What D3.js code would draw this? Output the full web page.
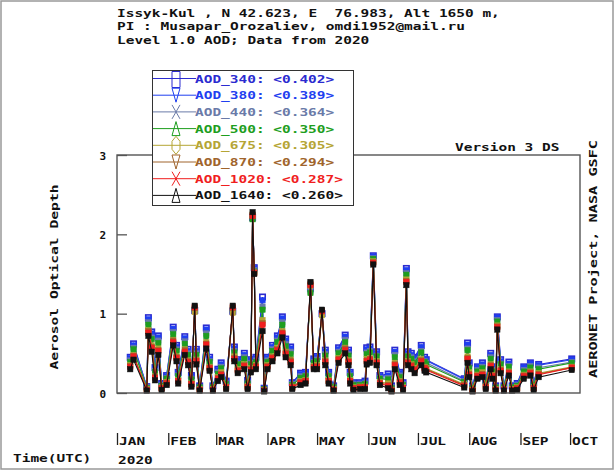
<!DOCTYPE html>
<html>
<head>
<meta charset="utf-8">
<script src="https://cdn.jsdelivr.net/npm/d3@7"></script>
<style>
  body { margin: 0; background: #fff; }
  svg text {
    font-family: "DejaVu Sans Mono", monospace;
    font-weight: bold;
    font-size: 11px;
    white-space: pre;
  }
</style>
</head>
<body>
<div class="chart-section"></div>
<script>
// observation days (2020), MM-DD
const dates = [
  "01-09","01-11","01-19","01-20","01-22","01-24","01-26","01-28","01-31",
  "02-04","02-06","02-07","02-11","02-13","02-15","02-17","02-18","02-20","02-24","02-26","02-28",
  "03-02","03-04","03-07","03-11","03-12","03-14","03-18","03-20","03-22","03-23","03-24","03-25","03-29","03-30",
  "04-01","04-04","04-07","04-10","04-12","04-15","04-16","04-21","04-24","04-27","04-29",
  "05-01","05-04","05-06","05-08","05-11","05-14","05-18","05-20","05-21","05-23","05-27","05-30","05-31",
  "06-02","06-04","06-06","06-08","06-13","06-15","06-17","06-20","06-22","06-24","06-25","06-27","06-29",
  "07-03","07-05","07-06","07-29","07-31",
  "08-01","08-03","08-06","08-09","08-11","08-14","08-15","08-17","08-18","08-20","08-22","08-25","08-27","08-30",
  "09-03","09-07","09-09","09-12",
  "10-02",
];

const aod340 = [
  0.45,0.62,0.08,0.95,0.77,0.32,0.72,0.12,0.22,
  0.83,0.60,0.26,0.71,0.55,0.22,1.04,0.55,0.09,0.82,0.45,0.09,
  0.30,0.38,0.15,1.03,0.58,0.42,0.50,0.16,0.42,2.21,1.58,0.45,1.21,0.06,
  0.45,0.60,0.72,0.96,0.68,0.58,0.13,0.25,0.26,1.32,0.43,
  0.46,1.00,0.54,0.26,0.09,0.57,0.73,0.54,0.26,0.13,0.13,0.15,0.57,
  0.58,1.73,0.52,0.22,0.24,0.09,0.54,0.26,0.13,1.57,0.52,0.50,0.45,
  0.60,0.45,0.42,0.18,0.63,
  0.38,0.09,0.33,0.38,0.16,0.50,0.33,0.09,0.96,0.42,0.09,0.39,0.09,0.12,
  0.33,0.38,0.13,0.36,
  0.43,
];
const aod380 = [
  0.44,0.60,0.08,0.93,0.75,0.31,0.70,0.11,0.21,
  0.81,0.58,0.25,0.69,0.53,0.21,1.05,0.53,0.08,0.80,0.43,0.08,
  0.29,0.36,0.14,1.04,0.56,0.40,0.48,0.15,0.41,2.22,1.57,0.44,1.17,0.06,
  0.44,0.58,0.70,0.94,0.66,0.56,0.12,0.24,0.25,1.31,0.42,
  0.45,1.00,0.52,0.25,0.08,0.55,0.71,0.52,0.25,0.12,0.12,0.14,0.55,
  0.56,1.72,0.50,0.21,0.22,0.08,0.52,0.25,0.12,1.55,0.50,0.48,0.43,
  0.58,0.43,0.41,0.17,0.61,
  0.36,0.08,0.32,0.36,0.15,0.48,0.32,0.08,0.95,0.40,0.08,0.37,0.08,0.11,
  0.32,0.37,0.12,0.35,
  0.42,
];
const aod440 = [
  0.41,0.57,0.07,0.89,0.70,0.28,0.66,0.10,0.19,
  0.77,0.55,0.22,0.65,0.50,0.18,1.05,0.50,0.07,0.75,0.40,0.07,
  0.26,0.33,0.12,1.05,0.53,0.37,0.45,0.13,0.38,2.20,1.55,0.41,1.09,0.05,
  0.41,0.55,0.66,0.89,0.62,0.52,0.11,0.21,0.22,1.29,0.39,
  0.42,1.01,0.49,0.22,0.07,0.52,0.67,0.49,0.22,0.11,0.11,0.12,0.51,
  0.53,1.70,0.47,0.19,0.19,0.07,0.48,0.22,0.11,1.51,0.47,0.45,0.40,
  0.53,0.40,0.38,0.15,0.56,
  0.33,0.07,0.29,0.33,0.13,0.45,0.29,0.07,0.92,0.37,0.07,0.34,0.07,0.10,
  0.29,0.34,0.11,0.32,
  0.39,
];
const aod500 = [
  0.39,0.55,0.06,0.86,0.68,0.26,0.63,0.09,0.18,
  0.74,0.53,0.21,0.62,0.48,0.17,1.06,0.48,0.07,0.72,0.39,0.07,
  0.24,0.31,0.11,1.05,0.51,0.36,0.43,0.12,0.36,2.19,1.53,0.39,1.05,0.05,
  0.39,0.53,0.64,0.86,0.59,0.49,0.10,0.19,0.21,1.26,0.38,
  0.40,1.01,0.47,0.21,0.07,0.50,0.64,0.47,0.21,0.10,0.10,0.11,0.49,
  0.51,1.69,0.46,0.18,0.17,0.06,0.45,0.20,0.10,1.49,0.46,0.43,0.38,
  0.51,0.39,0.36,0.14,0.54,
  0.31,0.06,0.27,0.31,0.12,0.43,0.27,0.07,0.90,0.36,0.07,0.33,0.07,0.09,
  0.27,0.32,0.10,0.30,
  0.38,
];
const aod675 = [
  0.35,0.48,0.05,0.79,0.60,0.21,0.56,0.07,0.14,
  0.67,0.46,0.16,0.55,0.41,0.12,1.02,0.42,0.05,0.64,0.33,0.05,
  0.20,0.26,0.08,1.01,0.46,0.30,0.36,0.09,0.31,2.24,1.52,0.35,0.92,0.03,
  0.35,0.46,0.57,0.78,0.52,0.42,0.08,0.15,0.16,1.35,0.34,
  0.35,0.98,0.41,0.16,0.05,0.44,0.57,0.41,0.16,0.07,0.08,0.08,0.43,
  0.44,1.66,0.40,0.14,0.12,0.04,0.38,0.15,0.07,1.43,0.40,0.36,0.31,
  0.43,0.33,0.31,0.11,0.46,
  0.26,0.04,0.23,0.26,0.09,0.36,0.23,0.05,0.85,0.30,0.05,0.27,0.05,0.07,
  0.23,0.27,0.07,0.25,
  0.33,
];
const aod870 = [
  0.34,0.47,0.04,0.78,0.58,0.20,0.54,0.06,0.13,
  0.66,0.45,0.15,0.54,0.40,0.11,1.07,0.41,0.04,0.62,0.32,0.04,
  0.19,0.24,0.07,1.07,0.44,0.29,0.35,0.08,0.30,2.25,1.52,0.34,0.88,0.03,
  0.34,0.45,0.55,0.76,0.51,0.41,0.07,0.14,0.15,1.38,0.33,
  0.34,1.03,0.40,0.15,0.04,0.43,0.56,0.40,0.15,0.06,0.07,0.07,0.41,
  0.43,1.65,0.39,0.13,0.10,0.04,0.36,0.14,0.06,1.41,0.39,0.35,0.30,
  0.41,0.32,0.30,0.10,0.44,
  0.24,0.04,0.22,0.24,0.08,0.35,0.22,0.04,0.84,0.29,0.04,0.26,0.04,0.06,
  0.22,0.26,0.06,0.24,
  0.32,
];
const aod1020 = [
  0.33,0.46,0.04,0.76,0.57,0.19,0.53,0.06,0.12,
  0.64,0.44,0.15,0.52,0.39,0.11,1.08,0.40,0.04,0.61,0.31,0.04,
  0.18,0.23,0.07,1.08,0.43,0.28,0.34,0.07,0.29,2.23,1.51,0.33,0.86,0.03,
  0.33,0.44,0.54,0.75,0.49,0.39,0.07,0.13,0.15,1.36,0.32,
  0.33,1.03,0.39,0.15,0.04,0.42,0.54,0.39,0.15,0.06,0.07,0.07,0.40,
  0.42,1.64,0.38,0.12,0.09,0.03,0.35,0.13,0.06,1.40,0.38,0.34,0.29,
  0.40,0.31,0.29,0.09,0.43,
  0.23,0.03,0.21,0.23,0.07,0.34,0.21,0.04,0.83,0.28,0.04,0.25,0.04,0.06,
  0.21,0.25,0.06,0.23,
  0.32,
];
const aod1640 = [
  0.30,0.42,0.03,0.72,0.52,0.16,0.48,0.04,0.10,
  0.60,0.40,0.12,0.48,0.35,0.08,1.10,0.36,0.03,0.56,0.28,0.03,
  0.15,0.20,0.05,1.10,0.40,0.25,0.30,0.05,0.26,2.28,1.50,0.30,0.78,0.02,
  0.30,0.40,0.50,0.70,0.45,0.35,0.05,0.10,0.12,1.40,0.30,
  0.30,1.05,0.35,0.12,0.03,0.38,0.50,0.35,0.12,0.04,0.05,0.05,0.36,
  0.38,1.62,0.35,0.10,0.06,0.02,0.30,0.10,0.04,1.36,0.35,0.30,0.25,
  0.35,0.28,0.26,0.07,0.38,
  0.20,0.02,0.18,0.20,0.05,0.30,0.18,0.03,0.80,0.25,0.03,0.22,0.03,0.04,
  0.18,0.22,0.04,0.20,
  0.29,
];

const seriesNames = ["AOD_340","AOD_380","AOD_440","AOD_500","AOD_675","AOD_870","AOD_1020","AOD_1640"];
const seriesMeans = ["0.402","0.389","0.364","0.350","0.305","0.294","0.287","0.260"];
const monthLabels = ["JAN","FEB","MAR","APR","MAY","JUN","JUL","AUG","SEP","OCT"];
const yTicks = [0, 1, 2, 3];
const headerLines = [
  "Issyk-Kul , N 42.623, E  76.983, Alt 1650 m,",
  "PI : Musapar_Orozaliev, omdi1952@mail.ru",
  "Level 1.0 AOD; Data from 2020",
];

const colors = ["#2b2bd0","#1f3ff0","#6a7aa8","#1e9e1e","#b5a535","#a0642c","#f01e1e","#111111"];
const legendShapes = ["square","down","cross","up","diamond","down","cross","up"];

const seriesValues = [aod340, aod380, aod440, aod500, aod675, aod870, aod1020, aod1640];
const parseDay = d3.timeParse("%Y-%m-%d");
const days = dates.map((d) => parseDay("2020-" + d));

const width = 614;
const height = 470;
const cw = 8.7; // character width of the label font

const x = d3.scaleTime()
  .domain([new Date(2020, 0, 1), new Date(2020, 9, 7)])
  .range([117, 580]);
const y = d3.scaleLinear().domain([0, 3]).range([393, 155]);

const svg = d3.select(".chart-section")
  .append("svg")
  .attr("width", width)
  .attr("height", height);

svg.append("rect")
  .attr("x", 1).attr("y", 1)
  .attr("width", width - 2).attr("height", height - 2)
  .attr("fill", "#fff")
  .attr("stroke", "#999")
  .attr("stroke-width", 1.5);

const addText = (parent, str, px, py, color = "#111", n = cw) =>
  parent.append("text")
    .attr("x", px).attr("y", py)
    .attr("fill", color)
    .attr("textLength", str.length * n)
    .attr("lengthAdjust", "spacingAndGlyphs")
    .text(str);

// header
headerLines.forEach((s, i) => addText(svg, s, 117, 17 + i * 13.3));

// data
const line = d3.line().x((d) => x(d[0])).y((d) => y(d[1]));
const plot = svg.append("g");

seriesValues.forEach((vals, k) => {
  const pts = days.map((d, i) => [d, vals[i]]);
  plot.append("path")
    .datum(pts)
    .attr("fill", "none")
    .attr("stroke", colors[k])
    .attr("stroke-width", 1.1)
    .attr("d", line);
  const open = k === 0;
  plot.append("g")
    .selectAll("rect")
    .data(pts)
    .join("rect")
    .attr("x", (d) => x(d[0]) - 2.7)
    .attr("y", (d) => y(d[1]) - 2.7)
    .attr("width", 5.4)
    .attr("height", 5.4)
    .attr("fill", open ? "none" : colors[k])
    .attr("stroke", colors[k])
    .attr("stroke-width", open ? 1.6 : 0.5);
});

// frame
svg.append("rect")
  .attr("x", 117).attr("y", 155)
  .attr("width", 580 - 117).attr("height", 393 - 155)
  .attr("fill", "none")
  .attr("stroke", "#555")
  .attr("stroke-width", 1.4);

// y axis
svg.append("g")
  .attr("transform", "translate(117,0)")
  .call(d3.axisLeft(y).tickValues(yTicks).tickSize(-10).tickPadding(11).tickFormat(d3.format("d")))
  .call((g) => g.select(".domain").remove())
  .call((g) => g.selectAll("line").attr("stroke", "#555").attr("stroke-width", 1.3))
  .call((g) => g.selectAll("text").attr("fill", "#111").attr("dy", "0.38em"));

svg.append("text")
  .attr("transform", "translate(58,277) rotate(-90)")
  .attr("text-anchor", "middle")
  .attr("fill", "#111")
  .attr("textLength", 185)
  .attr("lengthAdjust", "spacingAndGlyphs")
  .text("Aerosol Optical Depth");

svg.append("text")
  .attr("transform", "translate(597,259) rotate(-90)")
  .attr("text-anchor", "middle")
  .attr("fill", "#111")
  .attr("textLength", 238)
  .attr("lengthAdjust", "spacingAndGlyphs")
  .text("AERONET Project, NASA GSFC");

addText(svg, "Version 3 DS", 455, 151);

// month labels
const months = d3.timeMonth.range(new Date(2020, 0, 1), new Date(2020, 9, 2));
const monthG = svg.append("g")
  .selectAll("g")
  .data(months)
  .join("g")
  .attr("transform", (d) => `translate(${x(d)},0)`);
monthG.append("line")
  .attr("x1", 0.5).attr("x2", 0.5)
  .attr("y1", 433).attr("y2", 445)
  .attr("stroke", "#222")
  .attr("stroke-width", 1.3);
monthG.each(function (d, i) {
  addText(d3.select(this), monthLabels[i], 2, 445);
});

addText(svg, "Time(UTC)", 13, 462);
addText(svg, "2020", 118, 464);

// legend
const legend = svg.append("g");
legend.append("rect")
  .attr("x", 152.5).attr("y", 70.5)
  .attr("width", 201).attr("height", 135)
  .attr("fill", "#fff")
  .attr("stroke", "#333")
  .attr("stroke-width", 1);

const shapePath = {
  square: "M-4,-8H4V8H-4Z",
  down: "M-4,-7L4,-7L0,7Z",
  up: "M0,-7L4,7L-4,7Z",
  cross: "M-4,-7L4,7M4,-7L-4,7",
  diamond: "M0,-9L4,-4L4,4L0,9L-4,4L-4,-4Z",
};

const legendItem = legend.selectAll("g")
  .data(seriesNames)
  .join("g")
  .attr("transform", (d, i) => `translate(0,${78.5 + i * 16.7})`);

legendItem.append("line")
  .attr("x1", 153).attr("x2", 196)
  .attr("stroke", (d, i) => colors[i])
  .attr("stroke-width", 1);

legendItem.append("path")
  .attr("transform", (d, i) => `translate(176,${i === 0 ? 1 : 0})`)
  .attr("d", (d, i) => shapePath[legendShapes[i]])
  .attr("fill", "none")
  .attr("stroke", (d, i) => colors[i])
  .attr("stroke-width", 1);

legendItem.each(function (d, i) {
  addText(d3.select(this), `${d}: <${seriesMeans[i]}>`, 195, 4, colors[i]);
});
</script>
</body>
</html>
